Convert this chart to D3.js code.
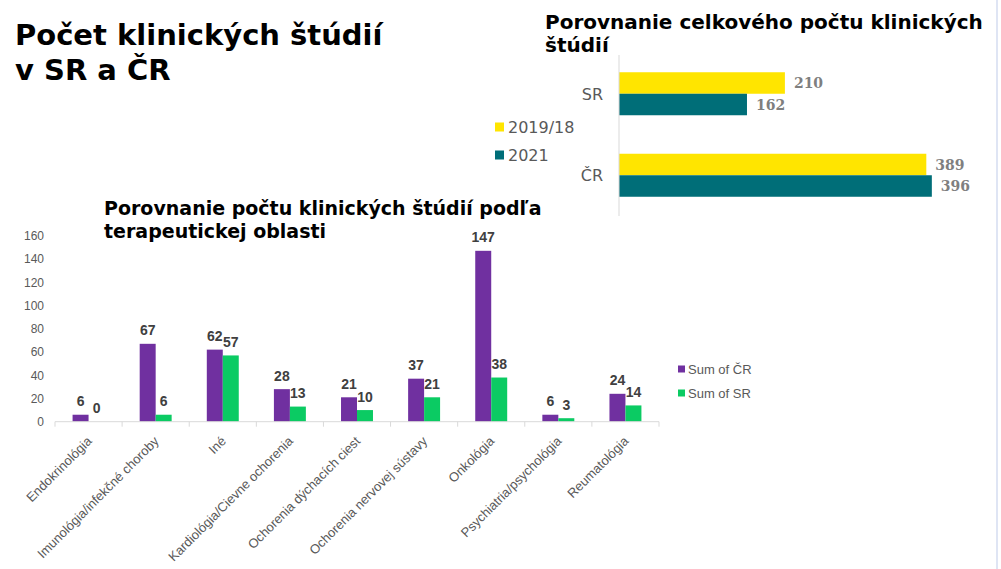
<!DOCTYPE html>
<html>
<head>
<meta charset="utf-8">
<script src="https://cdn.jsdelivr.net/npm/d3@7"></script>
<style>
  body { margin: 0; background: #fff; }
  svg { display: block; }
</style>
</head>
<body>
<div id="chart"></div>
<script>
'use strict';

// top right chart: totals
var totalCountries = ['SR', 'ČR'];
var totalSeries = ['2019/18', '2021'];
var totals2019 = [210, 389];
var totals2021 = [162, 396];
var totalColors = ['#FFE500', '#006E78'];

// bottom chart: by therapeutic area
var areas = ['Endokrinológia', 'Imunológia/infekčné choroby', 'Iné', 'Kardiológia/Cievne ochorenia',
    'Ochorenia dýchacích ciest', 'Ochorenia nervovej sústavy', 'Onkológia', 'Psychiatria/psychológia', 'Reumatológia'];
var areaSeries = ['Sum of ČR', 'Sum of SR'];
var areaCR = [6, 67, 62, 28, 21, 37, 147, 6, 24];
var areaSR = [0, 6, 57, 13, 10, 21, 38, 3, 14];
var areaColors = ['#7030A0', '#0BCB63'];
var yTicks = [0, 20, 40, 60, 80, 100, 120, 140, 160];

var W = 1001, H = 569;
var svg = d3.select('#chart').append('svg')
    .attr('width', W)
    .attr('height', H);

svg.append('rect').attr('width', W).attr('height', H).attr('fill', '#fff');

// faint slide border on the right
svg.append('rect')
    .attr('x', 996).attr('y', 0).attr('width', 2).attr('height', H)
    .attr('fill', '#c9d3ec').attr('opacity', 0.6);

// main title
var title = svg.append('text')
    .attr('font-family', 'DejaVu Sans, Verdana, sans-serif')
    .attr('font-weight', 'bold')
    .attr('font-size', 29)
    .attr('fill', '#000');
title.append('tspan').attr('x', 15).attr('y', 45).text('Počet klinických štúdií');
title.append('tspan').attr('x', 15).attr('y', 80).text('v SR a ČR');

// ---------- totals (horizontal bars) ----------
var t2 = svg.append('text')
    .attr('font-family', 'DejaVu Sans, Verdana, sans-serif')
    .attr('font-weight', 'bold')
    .attr('font-size', 20)
    .attr('fill', '#000');
t2.append('tspan').attr('x', 545).attr('y', 29).text('Porovnanie celkového počtu klinických');
t2.append('tspan').attr('x', 545).attr('y', 52).text('štúdií');

var x0 = 619;
var xTot = d3.scaleLinear().domain([0, 500]).range([x0, x0 + 395]);
var yTot = d3.scaleBand().domain(totalCountries).range([53, 216]);
var yTotSub = d3.scaleBand().domain(totalSeries).range([0, yTot.bandwidth()]).paddingOuter(0.895);

var totRows = totalCountries.map(function (c, i) {
    return { country: c, values: [totals2019[i], totals2021[i]] };
});

var gTot = svg.append('g');
totRows.forEach(function (row) {
    row.values.forEach(function (v, j) {
        var yy = yTot(row.country) + yTotSub(totalSeries[j]);
        gTot.append('rect')
            .attr('x', xTot(0))
            .attr('y', yy)
            .attr('width', xTot(v) - xTot(0))
            .attr('height', yTotSub.bandwidth())
            .attr('fill', totalColors[j]);
        gTot.append('text')
            .attr('x', xTot(v) + 9)
            .attr('y', yy + yTotSub.bandwidth() / 2)
            .attr('dy', '0.36em')
            .attr('font-family', 'DejaVu Serif, Georgia, serif')
            .attr('font-weight', 'bold')
            .attr('font-size', 14)
            .attr('fill', '#7F7F7F')
            .text(v);
    });
    gTot.append('text')
        .attr('x', 603)
        .attr('y', yTot(row.country) + yTot.bandwidth() / 2)
        .attr('dy', '0.36em')
        .attr('text-anchor', 'end')
        .attr('font-family', 'DejaVu Sans, Verdana, sans-serif')
        .attr('font-size', 16)
        .attr('fill', '#595959')
        .text(row.country);
});

gTot.append('line')
    .attr('x1', x0).attr('x2', x0)
    .attr('y1', 55).attr('y2', 216)
    .attr('stroke', '#D9D9D9');

totalSeries.forEach(function (s, j) {
    var ly = 127 + j * 28;
    gTot.append('rect')
        .attr('x', 495).attr('y', ly - 4.5)
        .attr('width', 9).attr('height', 9)
        .attr('fill', totalColors[j]);
    gTot.append('text')
        .attr('x', 508).attr('y', ly)
        .attr('dy', '0.36em')
        .attr('font-family', 'DejaVu Sans, Verdana, sans-serif')
        .attr('font-size', 16)
        .attr('fill', '#595959')
        .text(s);
});

// ---------- by area (vertical grouped bars) ----------
var t3 = svg.append('text')
    .attr('font-family', 'DejaVu Sans, Verdana, sans-serif')
    .attr('font-weight', 'bold')
    .attr('font-size', 19)
    .attr('fill', '#000');
t3.append('tspan').attr('x', 104).attr('y', 215).text('Porovnanie počtu klinických štúdií podľa');
t3.append('tspan').attr('x', 104).attr('y', 238).text('terapeutickej oblasti');

var yA = d3.scaleLinear().domain([0, 160]).range([421.7, 235.7]);
var xA = d3.scaleBand().domain(areas).range([55, 659]);
var xSub = d3.scaleBand().domain(areaSeries).range([0, xA.bandwidth()]).paddingOuter(1.1);

var gA = svg.append('g');

// y tick labels
gA.selectAll('.ytick')
    .data(yTicks)
    .enter()
    .append('text')
    .attr('x', 44)
    .attr('y', function (d) { return yA(d); })
    .attr('dy', '0.36em')
    .attr('text-anchor', 'end')
    .attr('font-family', 'Liberation Sans, Arial, sans-serif')
    .attr('font-size', 12)
    .attr('fill', '#595959')
    .text(function (d) { return d; });

var areaRows = areas.map(function (a, i) {
    return { area: a, values: [areaCR[i], areaSR[i]] };
});

areaRows.forEach(function (row) {
    row.values.forEach(function (v, j) {
        var xx = xA(row.area) + xSub(areaSeries[j]);
        gA.append('rect')
            .attr('x', xx)
            .attr('y', yA(v))
            .attr('width', xSub.bandwidth())
            .attr('height', yA(0) - yA(v))
            .attr('fill', areaColors[j]);
    });
});

// value labels (drawn after bars so they stay on top)
areaRows.forEach(function (row) {
    row.values.forEach(function (v, j) {
        var xx = xA(row.area) + xSub(areaSeries[j]) + xSub.bandwidth() / 2;
        gA.append('text')
            .attr('x', xx)
            .attr('y', yA(v) - 8.5)
            .attr('text-anchor', 'middle')
            .attr('font-family', 'Liberation Sans, Arial, sans-serif')
            .attr('font-weight', 'bold')
            .attr('font-size', 14)
            .attr('fill', '#404040')
            .text(v);
    });
});

// baseline and category ticks
gA.append('line')
    .attr('x1', 55).attr('x2', 659)
    .attr('y1', yA(0)).attr('y2', yA(0))
    .attr('stroke', '#D9D9D9');
gA.selectAll('.xtick')
    .data(areas.concat(['end']))
    .enter()
    .append('line')
    .attr('x1', function (d, i) { return 55 + i * xA.step(); })
    .attr('x2', function (d, i) { return 55 + i * xA.step(); })
    .attr('y1', yA(0)).attr('y2', yA(0) + 5)
    .attr('stroke', '#D9D9D9');

// rotated category labels
gA.selectAll('.xlab')
    .data(areas)
    .enter()
    .append('text')
    .attr('transform', function (d) {
        var cx = xA(d) + xA.bandwidth() / 2;
        return 'translate(' + (cx + 4) + ',' + 442 + ') rotate(-45)';
    })
    .attr('text-anchor', 'end')
    .attr('font-family', 'Liberation Sans, Arial, sans-serif')
    .attr('font-size', 13)
    .attr('fill', '#595959')
    .text(function (d) { return d; });

// legend
areaSeries.forEach(function (s, j) {
    var ly = 369 + j * 24;
    gA.append('rect')
        .attr('x', 678).attr('y', ly - 3.5)
        .attr('width', 7).attr('height', 7)
        .attr('fill', areaColors[j]);
    gA.append('text')
        .attr('x', 688).attr('y', ly)
        .attr('dy', '0.36em')
        .attr('font-family', 'Liberation Sans, Arial, sans-serif')
        .attr('font-size', 13)
        .attr('fill', '#595959')
        .text(s);
});
</script>
</body>
</html>
